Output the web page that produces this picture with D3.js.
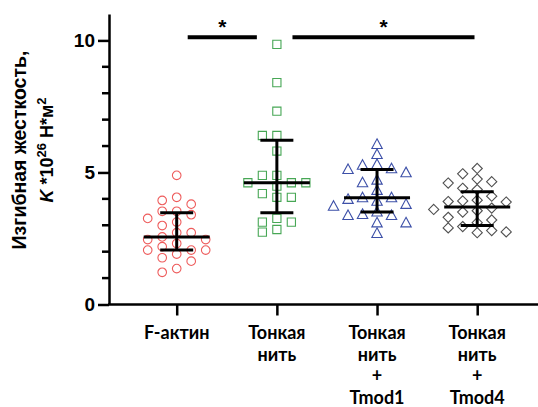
<!DOCTYPE html>
<html>
<head>
<meta charset="utf-8">
<script src="https://cdn.jsdelivr.net/npm/d3@7/dist/d3.min.js"></script>
<style>
  body { margin: 0; background: #fff; }
  svg { display: block; }
</style>
</head>
<body>
<div id="chart"></div>
<script>
// data
const groups = ["F-актин", "Тонкая нить", "Тонкая нить + Tmod1", "Тонкая нить + Tmod4"]
const groupLines = [
  ["F-актин"],
  ["Тонкая", "нить"],
  ["Тонкая", "нить", "+", "Tmod1"],
  ["Тонкая", "нить", "+", "Tmod4"]
]

const fActin = [4.89, 3.94, 4.06, 3.80, 3.40, 3.53, 3.53, 3.26, 3.12, 2.99, 2.72, 2.72, 2.31,
  2.46, 2.46, 2.56, 2.19, 1.91, 2.06, 2.06, 2.06, 1.77, 1.64, 1.36, 1.22]
const thinFil = [9.85, 8.40, 7.32, 6.40, 6.40, 5.81, 4.89, 4.89, 4.61, 4.61, 4.61, 4.48, 4.20,
  4.06, 4.06, 3.12, 3.12, 3.26, 2.74, 2.84]
const thinTmod1 = [6.06, 5.68, 5.27, 5.30, 5.11, 4.99, 5.14, 4.71, 4.61, 4.32, 4.04, 3.79, 3.98,
  3.91, 4.04, 3.72, 3.37, 3.41, 3.50, 3.37, 3.09, 3.09, 2.69]
const thinTmod4 = [5.15, 4.95, 4.75, 4.65, 4.60, 4.40, 4.35, 4.10, 3.95, 3.92, 3.90, 3.88, 3.65,
  3.60, 3.55, 3.50, 3.30, 3.20, 3.10, 2.95, 2.90, 2.80, 2.75, 2.72]
const series = [fActin, thinFil, thinTmod1, thinTmod4]

// center line and whiskers
const centers = [2.56, 4.61, 4.04, 3.69]
const lowers = [2.06, 3.47, 3.50, 2.99]
const uppers = [3.47, 6.22, 5.11, 4.27]

const yTicks = [0, 5, 10]
const sigFrom = [0, 1]
const sigTo = [1, 3]
const sigText = ["*", "*"]

const width = 538, height = 407

const svg = d3.select("#chart").append("svg")
  .attr("width", width)
  .attr("height", height)

const y = d3.scaleLinear().domain([0, 11]).range([304.5, 14])
const x = d3.scalePoint().domain(groups).range([176.7, 477.2])
const axisLeftX = 109

// y axis
const yAxis = svg.append("g")
  .attr("transform", `translate(${axisLeftX},0)`)
  .call(d3.axisLeft(y).tickValues(yTicks).tickSize(11).tickPadding(3).tickSizeOuter(0))
yAxis.select(".domain").attr("stroke-width", 2.5)
yAxis.selectAll(".tick line").attr("stroke-width", 2.5)
yAxis.selectAll(".tick text")
  .attr("font-family", "Liberation Sans, Arial, sans-serif")
  .attr("font-weight", "bold")
  .attr("font-size", 19)
  .attr("fill", "#000")

// minor ticks
yAxis.append("g").selectAll("line")
  .data(d3.range(1, 10).filter(v => v % 5 !== 0))
  .join("line")
  .attr("x1", -7).attr("x2", 0)
  .attr("y1", d => y(d)).attr("y2", d => y(d))
  .attr("stroke", "#000").attr("stroke-width", 2.5)

// x axis
svg.append("line")
  .attr("x1", axisLeftX - 1).attr("x2", width)
  .attr("y1", y(0)).attr("y2", y(0))
  .attr("stroke", "#000").attr("stroke-width", 2.5)

const xAxis = svg.append("g")
  .attr("transform", `translate(0,${y(0)})`)
  .call(d3.axisBottom(x).tickSize(11).tickFormat(""))
xAxis.select(".domain").remove()
xAxis.selectAll(".tick line").attr("stroke-width", 2.5)

// x labels
const labelFirstBaseline = 339
svg.append("g").selectAll("text")
  .data(groups)
  .join("text")
  .attr("x", d => x(d))
  .attr("y", labelFirstBaseline)
  .attr("text-anchor", "middle")
  .attr("font-family", "Lato, sans-serif")
  .attr("font-weight", "bold")
  .attr("font-size", 18)
  .selectAll("tspan")
  .data((d, i) => groupLines[i])
  .join("tspan")
  .attr("x", function() { return this.parentNode.getAttribute("x") })
  .attr("dy", (d, i) => i === 0 ? 0 : 21.7)
  .text(d => d)

// y label
const yLab = svg.append("text")
  .attr("transform", "translate(26,150) rotate(-90)")
  .attr("text-anchor", "middle")
  .attr("font-family", "Liberation Sans, Arial, sans-serif")
  .attr("font-weight", "bold")
  .attr("font-size", 18)
yLab.append("tspan").attr("x", 0).attr("dy", 0).attr("font-size", 19.5).text("Изгибная жесткость,")
const line2 = yLab.append("tspan").attr("x", 0).attr("dy", 27)
line2.append("tspan").attr("font-style", "italic").text("K")
line2.append("tspan").text(" *10")
line2.append("tspan").attr("font-size", 13).attr("dy", -7).text("26")
line2.append("tspan").attr("dy", 7).text(" Н*м")
line2.append("tspan").attr("font-size", 13).attr("dy", -7).text("2")

// simple beeswarm: spread points sideways into columns
const colStep = 14.5
const minGap = 9.5
function swarm(values) {
  const order = values.map((v, i) => i).sort((a, b) => values[b] - values[a])
  const placed = []
  const cols = [0, -1, 1, -2, 2, -3, 3, -4, 4]
  const out = new Array(values.length)
  order.forEach(i => {
    const py = y(values[i])
    const c = cols.find(c => !placed.some(p => p.c === c && Math.abs(p.y - py) < minGap))
    placed.push({ c, y: py })
    out[i] = { v: values[i], y: py, dx: c * colStep }
  })
  return out
}

const markerColor = ["#ee5c5c", "#47a755", "#3d50a8", "#505050"]
const s = 4.3
const markerPath = [
  d3.symbol().type(d3.symbolCircle).size(Math.PI * 4.3 * 4.3),
  d3.symbol().type(d3.symbolSquare).size(8.2 * 8.2),
  () => `M0,${-5.6}L${5.2},${4}L${-5.2},${4}Z`,
  () => `M0,${-s - 0.8}L${s + 0.8},0L0,${s + 0.8}L${-s - 0.8},0Z`
]

groups.forEach((g, gi) => {
  const pts = swarm(series[gi])
  svg.append("g").selectAll("path")
    .data(pts)
    .join("path")
    .attr("transform", d => `translate(${x(g) + d.dx},${d.y})`)
    .attr("d", markerPath[gi])
    .attr("fill", "none")
    .attr("stroke", markerColor[gi])
    .attr("stroke-width", 1.1)
})

// center line with whiskers
const bars = svg.append("g").attr("stroke", "#000").attr("stroke-width", 3)
groups.forEach((g, gi) => {
  const cx = x(g)
  bars.append("line").attr("x1", cx).attr("x2", cx).attr("y1", y(lowers[gi])).attr("y2", y(uppers[gi]))
  bars.append("line").attr("x1", cx - 33).attr("x2", cx + 33).attr("y1", y(centers[gi])).attr("y2", y(centers[gi]))
  bars.append("line").attr("x1", cx - 16.5).attr("x2", cx + 16.5).attr("y1", y(uppers[gi])).attr("y2", y(uppers[gi]))
  bars.append("line").attr("x1", cx - 16.5).attr("x2", cx + 16.5).attr("y1", y(lowers[gi])).attr("y2", y(lowers[gi]))
})

// significance bars (broken around the middle group's column)
const padStart = [11, 15.6]
const padEnd = [20, 2.7]
const sigY = 37.3
sigFrom.forEach((a, i) => {
  const x1 = x(groups[a]) + padStart[i]
  const x2 = x(groups[sigTo[i]]) - padEnd[i]
  svg.append("line")
    .attr("x1", x1).attr("x2", x2).attr("y1", sigY).attr("y2", sigY)
    .attr("stroke", "#000").attr("stroke-width", 4)
  svg.append("text")
    .attr("x", (x1 + x2) / 2)
    .attr("y", 34)
    .attr("text-anchor", "middle")
    .attr("font-family", "Liberation Sans, Arial, sans-serif")
    .attr("font-weight", "bold")
    .attr("font-size", 21)
    .text(sigText[i])
})
</script>
</body>
</html>
